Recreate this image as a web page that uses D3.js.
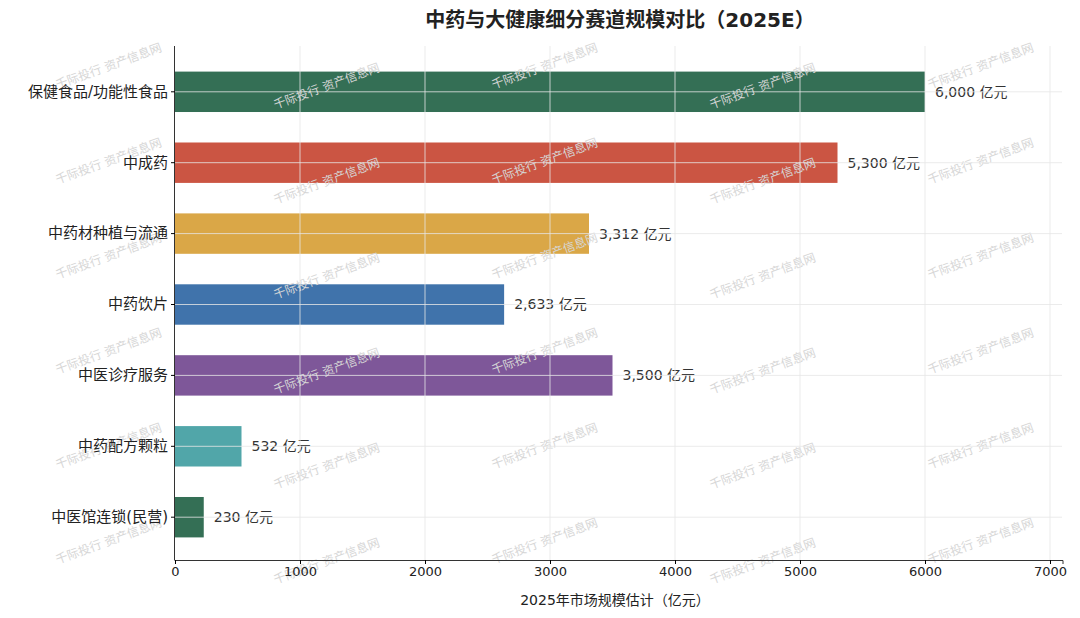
<!DOCTYPE html><html><head><meta charset="utf-8"><script src="https://cdn.jsdelivr.net/npm/d3@7"></script>
<style>body{margin:0;background:#fff}text{font-family:"DejaVu Sans","Noto Sans CJK SC",sans-serif}</style></head><body><svg width="1080" height="618"></svg><script>
const categories=["保健食品/功能性食品","中成药","中药材种植与流通","中药饮片","中医诊疗服务","中药配方颗粒","中医馆连锁(民营)"];
const values=[6000,5300,3312,2633,3500,532,230];
const colors=["#2d6a4f","#c9503d","#d9a441","#3a6ea8","#7a5296","#4ba3a6","#2d6a4f"];
const ticks=[0,1000,2000,3000,4000,5000,6000,7000];
const svg=d3.select("svg");
const L=175,R=1062,T=56,B=553;
const x=d3.scaleLinear().domain([0,7100]).range([L,L+7100*0.125]);
const y=d3.scaleBand().domain(categories).range([T,B]).paddingInner(0.43).paddingOuter(0.22);
const g=svg.append("g");
for(let r=0;r<6;r++)for(let c=0;c<5;c++){
 const wx=110+c*218, wy=70+r*95+(c%2)*20;
 svg.append("text").attr("transform",`translate(${wx},${wy}) rotate(-20)`).attr("text-anchor","middle").attr("font-size",12).attr("fill","#d6d6d6").text("千际投行 资产信息网");
}
g.selectAll("rect").data(values).join("rect").attr("x",x(0)).attr("y",(d,i)=>y(categories[i])).attr("height",y.bandwidth()).attr("width",d=>x(d)-x(0)).attr("fill",(d,i)=>colors[i]).attr("opacity",0.97);
ticks.slice(1).forEach(t=>svg.append("line").attr("x1",x(t)).attr("x2",x(t)).attr("y1",T-10).attr("y2",560).attr("stroke","#e6e6e6").attr("stroke-opacity",0.8));
categories.forEach(c=>svg.append("line").attr("x1",L).attr("x2",R).attr("y1",y(c)+y.bandwidth()/2).attr("y2",y(c)+y.bandwidth()/2).attr("stroke","#e6e6e6").attr("stroke-opacity",0.8));
g.selectAll(".v").data(values).join("text").attr("x",d=>x(d)+10).attr("y",(d,i)=>y(categories[i])+y.bandwidth()/2).attr("dy","0.35em").attr("font-size",14).attr("fill","#333").text(d=>d3.format(",")(d)+" 亿元");
const ya=svg.append("g").attr("transform",`translate(${L},0)`).call(d3.axisLeft(y).tickSize(4));
ya.select(".domain").attr("d",`M-0.5,46V560.5`);
ya.selectAll("text").attr("font-size",15).attr("fill","#222");
const xa=svg.append("g").attr("transform",`translate(0,560)`).call(d3.axisBottom(x).tickValues(ticks).tickFormat(d3.format("d")).tickSize(4));
xa.selectAll("text").attr("font-size",13).attr("fill","#222");
ya.select(".domain").attr("stroke","#333");xa.select(".domain").attr("stroke","#333");
svg.append("text").attr("x",615).attr("y",605).attr("text-anchor","middle").attr("font-size",14).attr("fill","#222").text("2025年市场规模估计（亿元）");
svg.append("text").attr("x",620).attr("y",27).attr("text-anchor","middle").attr("font-size",20).attr("font-weight","bold").attr("fill","#222").text("中药与大健康细分赛道规模对比（2025E）");
</script></body></html>
